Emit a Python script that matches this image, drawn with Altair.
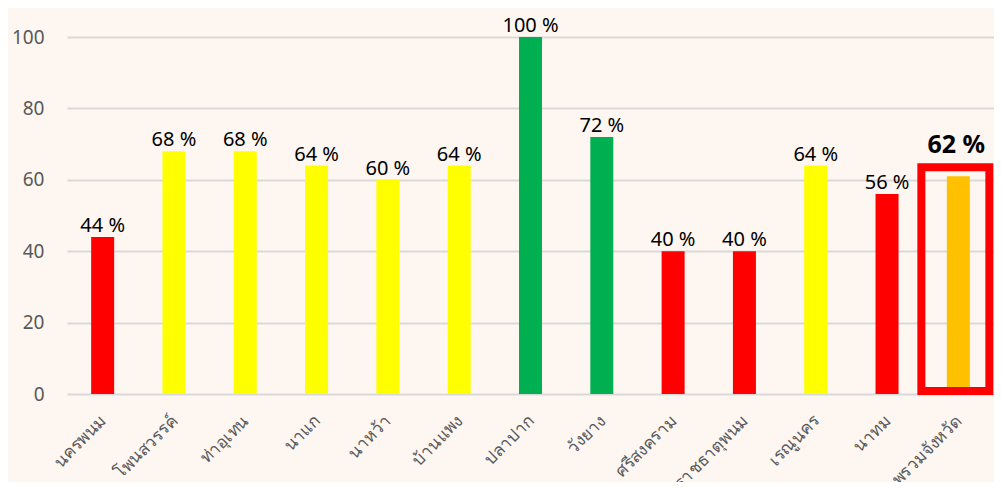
import altair as alt
import pandas as pd

names = ["นครพนม", "โพนสวรรค์", "ท่าอุเทน", "นาแก", "นาหว้า", "บ้านแพง", "ปลาปาก",
         "วังยาง", "ศรีสงคราม", "พระยุพราชธาตุพนม", "เรณูนคร", "นาทม", "ภาพรวมจังหวัด"]
values = [44, 68, 68, 64, 60, 64, 100, 72, 40, 40, 64, 56, 61]
shown = [44, 68, 68, 64, 60, 64, 100, 72, 40, 40, 64, 56, 62]
levels = ["ต่ำ", "กลาง", "กลาง", "กลาง", "กลาง", "กลาง", "สูง", "สูง", "ต่ำ", "ต่ำ", "กลาง", "ต่ำ", "รวม"]
level_order = ["ต่ำ", "กลาง", "สูง", "รวม"]
level_colors = ["#FF0000", "#FFFF00", "#00B050", "#FFC000"]
y_ticks = [0, 20, 40, 60, 80, 100]

df = pd.DataFrame({
    "name": names,
    "value": values,
    "label": [f"{v} %" for v in shown],
    "level": levels,
})

BG = "#FDF6F1"
FONT = "Noto Sans"

x = alt.X("name:N", sort=None,
          scale=alt.Scale(paddingInner=0, paddingOuter=0),
          axis=alt.Axis(title=None, labelAngle=-45, labelAlign="right", labelBaseline="middle",
                        ticks=False, domain=False, grid=False, labelPadding=24,
                        labelFontSize=17, labelColor="#595959", labelLimit=400,
                        labelFont=FONT, labelOffset=1))
y = alt.Y("value:Q", scale=alt.Scale(domain=[0, 100]),
          axis=alt.Axis(title=None, values=y_ticks, grid=True, gridColor="#D9D9D9", gridWidth=2,
                        domain=False, ticks=False, labelFontSize=19, labelColor="#595959",
                        labelPadding=23, labelFont=FONT))

base = alt.Chart(df)

bars = base.mark_bar(size=23).encode(
    x=x, y=y,
    color=alt.Color("level:N", scale=alt.Scale(domain=level_order, range=level_colors), legend=None),
)

labels = base.transform_filter("datum.level != 'รวม'").mark_text(
    baseline="bottom", dy=-1, fontSize=20, color="#000000", font=FONT
).encode(x=x, y=y, text="label:N")

total_label = base.transform_filter("datum.level == 'รวม'").mark_text(
    baseline="bottom", dy=-18, fontSize=25, fontWeight="bold", color="#000000", font=FONT, dx=-2
).encode(x=x, y=y, text="label:N")

box = base.transform_filter("datum.level == 'รวม'").mark_rect(
    fillOpacity=0, stroke="#FF0000", strokeWidth=8, width=68, xOffset=-3, yOffset=-9, y2Offset=-3
).encode(x=x, y=y, y2=alt.datum(0))

chart = alt.layer(bars, labels, total_label, box).properties(
    width=927, height=357,
    autosize=alt.AutoSizeParams(type="none"),
    padding={"left": 59, "top": 29, "right": 0, "bottom": 88},
    background=BG,
).configure_view(stroke=None)

chart.save("out.html", embed_options={"renderer": "svg", "actions": False})
